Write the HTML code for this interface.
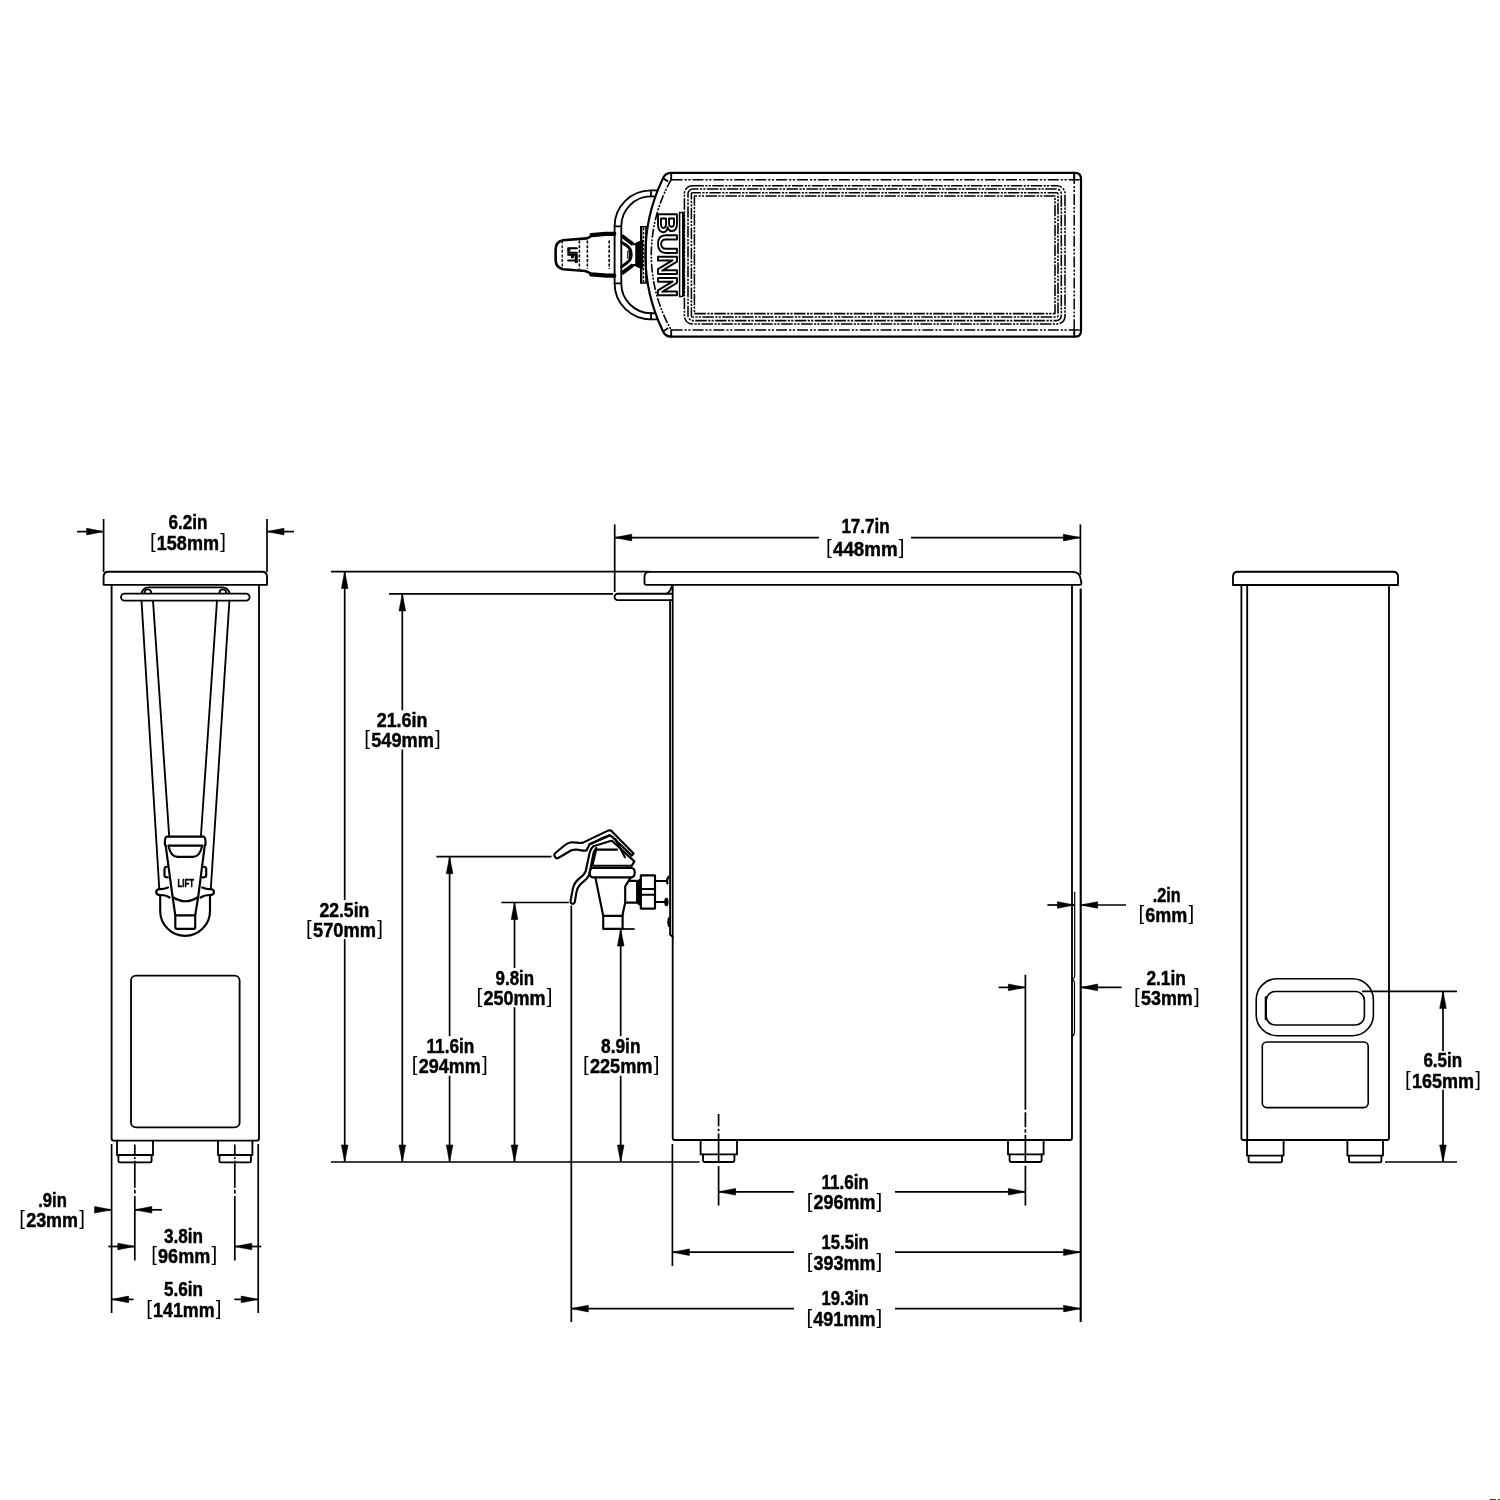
<!DOCTYPE html>
<html lang="en">
<head>
<meta charset="utf-8">
<title>Iced tea dispenser dimensional drawing</title>
<style>
html,body{margin:0;padding:0;background:#fff;}
body{width:1500px;height:1500px;overflow:hidden;}
svg{display:block;will-change:transform;}
.o{fill:none;stroke:#000;stroke-width:1.85;stroke-linecap:round;stroke-linejoin:round;}
.o2{fill:none;stroke:#000;stroke-width:2.15;stroke-linecap:round;stroke-linejoin:round;}
.of{fill:#fff;stroke:#000;stroke-width:1.85;stroke-linecap:round;stroke-linejoin:round;}
.k{fill:#000;stroke:#000;stroke-width:1;stroke-linejoin:round;}
.d{fill:none;stroke:#000;stroke-width:1.7;stroke-linecap:butt;}
.h{fill:none;stroke:#000;stroke-width:1.3;stroke-linecap:butt;}
.a{fill:#000;stroke:#000;stroke-width:0.6;stroke-linejoin:miter;}
.t{font-family:"Liberation Sans",sans-serif;font-size:20.0px;font-weight:700;fill:#000;stroke:#000;stroke-width:0.45;stroke-linejoin:round;text-anchor:middle;}
.b{font-weight:400;font-size:20.5px;stroke:none;}
.lift{font-family:"Liberation Sans",sans-serif;font-weight:700;fill:#000;stroke:#000;stroke-width:0.5;stroke-linejoin:round;text-anchor:middle;}
.lift2{font-family:"Liberation Sans",sans-serif;font-weight:700;fill:#000;stroke:#000;stroke-width:1.7;stroke-linejoin:round;text-anchor:middle;}
.bunn{font-family:"Liberation Sans",sans-serif;font-weight:700;fill:#fff;stroke:#000;stroke-width:1.9;stroke-linejoin:round;text-anchor:middle;}
</style>
</head>
<body>
<svg width="1500" height="1500" viewBox="0 0 1500 1500">
<rect x="0" y="0" width="1500" height="1500" fill="#fff"/>
<g id="topview">
<path class="o" d="M670.8,172.9 H1075 Q1081,172.9 1081,178.9 V330.7 Q1081,336.7 1075,336.7 H670.8 Q665,336.7 662.4,330 A174.8,174.8 0 0 1 662.4,179.6 Q665,172.9 670.8,172.9 Z" style="stroke-width:2.2"/>
<path class="h" d="M671.6,179.7 H1081" stroke-dasharray="11 2 2.2 1.5 2.2 2" style="stroke-width:1.5"/>
<path class="h" d="M671.6,329.9 H1081" stroke-dasharray="11 2 2.2 1.5 2.2 2" style="stroke-width:1.5"/>
<path class="h" d="M1074.2,173 V336.6" stroke-dasharray="11 2 2.2 1.5 2.2 2" style="stroke-width:1.5"/>
<path class="o" d="M671.2,173 V179.6"/>
<path class="o" d="M671.2,330 V336.6"/>
<path class="o" d="M1074.3,173 V179.7"/>
<path class="o" d="M1074.3,329.9 V336.6"/>
<path class="h" d="M671.2,179.6 A152,152 0 0 0 671.2,330" stroke-dasharray="9 1.6 2 1.3 2 1.6" style="stroke-width:1.6"/>
<path class="o" d="M663.2,178.4 L667.6,181.1"/>
<path class="o" d="M663.2,331.2 L667.6,328.5"/>
<rect class="h" x="684.4" y="185.7" width="380.6" height="138.2" rx="8" ry="8" stroke-dasharray="11.5 1.4 2.2 1.2 2.2 1.4" stroke-dashoffset="0" style="stroke-width:1.55"/>
<rect class="h" x="688" y="189" width="373.3" height="131.6" rx="5" ry="5" stroke-dasharray="11.5 1.4 2.2 1.2 2.2 1.4" stroke-dashoffset="6" style="stroke-width:1.55"/>
<rect class="h" x="691.4" y="192.7" width="366.6" height="124.2" rx="1" ry="1" stroke-dasharray="11.5 1.4 2.2 1.2 2.2 1.4" stroke-dashoffset="3" style="stroke-width:1.55"/>
<rect class="h" x="694.4" y="196" width="360.6" height="117.6" rx="0.2" ry="0.2" stroke-dasharray="11.5 1.4 2.2 1.2 2.2 1.4" stroke-dashoffset="9" style="stroke-width:1.55"/>
<path class="o" d="M656.9,190.3 H651 A36.4,35.8 0 0 0 614.6,226.1 V283.5 A36.4,35.8 0 0 0 651,319.3 H656.9"/>
<path class="o" d="M654.2,196.4 H651 A29.7,29.7 0 0 0 621.3,226.1 V283.5 A29.7,29.7 0 0 0 651,313.2 H654.2"/>
<path class="o" d="M614.6,226.3 H621.3"/>
<path class="o" d="M614.6,283.3 H621.3"/>
<path class="o" d="M651,190.3 V196.4"/>
<path class="o" d="M651,313.2 V319.3"/>
<path class="o" d="M614.5,234.6 L605.7,234.8 L591.4,236 Q589,237.6 586.6,238.4 L563,240.2 Q555.6,241.6 555.6,250 V259.6 Q555.6,267.6 563,269.2 L585.4,271 Q588,272 591,273.6 L607,274.8 L614.5,274.8" style="stroke-width:2.6"/>
<path class="o" d="M591.4,234.9 L605.7,233.6 H614.5" style="stroke-width:3.8"/>
<path class="o" d="M591,274.6 L607,275.8 H614.5" style="stroke-width:3.8"/>
<line class="h" x1="562.2" y1="240.6" x2="562.2" y2="269" stroke-dasharray="3 1.6" style="stroke-width:1.3"/>
<line class="h" x1="579.4" y1="240.6" x2="579.4" y2="269" stroke-dasharray="3 1.6" style="stroke-width:1.5"/>
<line class="h" x1="587.4" y1="240.6" x2="587.4" y2="269" stroke-dasharray="3 1.6" style="stroke-width:1.6"/>
<line class="h" x1="609.2" y1="240.6" x2="609.2" y2="269" stroke-dasharray="3 1.6" style="stroke-width:1.6"/>
<text class="lift2" transform="translate(568.4,254.9) rotate(90)" x="0" y="0" font-size="13.5" textLength="15.4" lengthAdjust="spacingAndGlyphs">LIFT</text>
<path class="o" d="M621.8,235.8 L633,244.2 M621.8,273.4 L633,265" style="stroke-width:3.9;stroke-linecap:butt"/>
<path class="o" d="M621.8,242.4 L627,245.8 Q631.2,249 631.2,254.6 Q631.2,260 627,262.8 L621.8,266.6" style="stroke-width:3"/>
<path class="o" d="M627.8,251 H629.6 V258 H627.8 Z" style="stroke-width:1.2"/>
<path class="o" d="M633,244.2 H636 M633,265 H636"/>
<polygon class="k" points="635.8,243 642.6,240.4 642.6,268.8 635.8,266.2"/>
<path class="h" d="M640.8,226.8 H646 V283 H640.8 Z" style="stroke-width:1.6"/>
<line class="h" x1="641.4" y1="227" x2="641.4" y2="283" style="stroke-width:2"/>
<line class="h" x1="643.6" y1="228" x2="643.6" y2="282" stroke-dasharray="2.4 1.6"/>
<text class="bunn" transform="translate(657.5,254.8) rotate(90)" x="0" y="0" font-size="27.4" textLength="85.2" lengthAdjust="spacingAndGlyphs">BUNN</text>
<path class="h" d="M679.6,212.5 H682.8 V296.5 H679.6 Z" style="stroke-width:1.5"/>
<line class="h" x1="683.8" y1="213" x2="683.8" y2="296" style="stroke-width:1.8"/>
</g>
<g id="frontview">
<line class="d" x1="103.6" y1="519" x2="103.6" y2="572"/>
<line class="d" x1="267" y1="519" x2="267" y2="572"/>
<line class="d" x1="77" y1="531.6" x2="103.6" y2="531.6"/>
<polygon class="a" points="103.6,531.6 86.6,528.3 86.6,534.9"/>
<line class="d" x1="267" y1="531.6" x2="294" y2="531.6"/>
<polygon class="a" points="267,531.6 284.0,528.3 284.0,534.9"/>
<text class="t" x="187.9" y="528.5" textLength="39.0" lengthAdjust="spacingAndGlyphs">6.2in</text>
<text class="t" y="549.7"><tspan class="b" x="149.9" dy="-1.85" text-anchor="start">[</tspan><tspan x="187.9" dy="1.85" textLength="62.2" lengthAdjust="spacingAndGlyphs">158mm</tspan><tspan class="b" x="225.9" dy="-1.85" text-anchor="end">]</tspan></text>
<path class="o" d="M103.6,584.8 V576.6 Q103.6,571.7 108.6,571.7 H262 Q267,571.7 267,576.6 V584.8 Z"/>
<path class="o" d="M111.6,584.8 V1138.6 Q111.6,1140.6 113.6,1140.6 H257 Q259,1140.6 259,1138.6 V584.8"/>
<path class="o" d="M141.4,594 Q142.6,587.4 149,587.4 H222 Q228.4,587.4 229.6,594"/>
<circle class="o" cx="147.8" cy="592.6" r="3.3"/>
<circle class="o" cx="222.8" cy="592.6" r="3.3"/>
<rect class="of" x="121" y="593.6" width="128.6" height="7.0" rx="3.5" ry="3.5"/>
<path class="o" d="M141.5,600.6 L159.3,889"/>
<path class="o" d="M153,600.6 L169.2,836.5"/>
<path class="o" d="M217,600.6 L200.9,836.5"/>
<path class="o" d="M229.4,600.6 L210.8,889"/>
<path class="o2" d="M160.2,895 V911 A24.9,24.9 0 0 0 210,911 V895"/>
<path class="o2" d="M168,887.4 Q163,889.6 159,889 Q156,890 156.2,892.5 Q156.6,895 160.2,895 Q166,895 169.6,897.5"/>
<path class="o2" d="M202.2,887.4 Q207.2,889.6 211.2,889 Q214.2,890 214,892.5 Q213.6,895 210,895 Q204.2,895 200.6,897.5"/>
<path class="o2" d="M165,845 Q164.4,838 166.5,836.6 H203.9 Q206,838 205.4,845"/>
<path class="o2" d="M165.6,845 L172.6,897 Q185.4,905.5 198.2,897 L204.8,845"/>
<path class="o2" d="M168.4,845.6 H202.2 Q200,856.8 193,856.8 H177.6 Q170.6,856.8 168.4,845.6 Z"/>
<path class="o2" d="M166.9,866.8 Q164.5,867 164.5,869 V875.4 Q164.5,877.2 167.8,877.4"/>
<path class="o2" d="M203.6,866.8 Q206.2,867 206.2,869 V875.4 Q206.2,877.2 202.8,877.4"/>
<path class="o2" d="M172.8,898 L175.3,915.3 V927.3 Q175.3,928.8 176.8,928.8 H193.7 Q195.2,928.8 195.2,927.3 V915.3 L198,898"/>
<path class="o2" d="M175.3,915.3 H195.2"/>
<text class="lift" x="185.7" y="887.4" font-size="10.8" textLength="16.4" lengthAdjust="spacingAndGlyphs">LIFT</text>
<rect class="o" x="131" y="975.6" width="108.6" height="151.8" rx="5" ry="5"/>
<path class="o" d="M117,1140.6 V1155 H153 V1140.6"/>
<path class="o" d="M118.4,1155 V1161 Q118.4,1162.4 119.8,1162.4 H150.2 Q151.6,1162.4 151.6,1161 V1155"/>
<path class="o" d="M218,1140.6 V1155 H252.4 V1140.6"/>
<path class="o" d="M219.4,1155 V1161 Q219.4,1162.4 220.8,1162.4 H249.6 Q251,1162.4 251,1161 V1155"/>
<line class="d" x1="111.6" y1="1144" x2="111.6" y2="1313"/>
<line class="d" x1="258.2" y1="1144" x2="258.2" y2="1313"/>
<line class="d" x1="134.8" y1="1144.5" x2="134.8" y2="1260.5" stroke-dasharray="10.3 2.4 1.8 1.8 27 2 3.6 2.7 70"/>
<line class="d" x1="234.8" y1="1144.5" x2="234.8" y2="1260.5" stroke-dasharray="10.3 2.4 1.8 1.8 27 2 3.6 2.7 70"/>
<line class="d" x1="94.6" y1="1209.8" x2="111.6" y2="1209.8"/>
<polygon class="a" points="111.6,1209.8 94.6,1206.5 94.6,1213.1"/>
<line class="d" x1="134.8" y1="1209.8" x2="162" y2="1209.8"/>
<polygon class="a" points="134.8,1209.8 151.8,1206.5 151.8,1213.1"/>
<text class="t" x="52.55" y="1207" textLength="28.7" lengthAdjust="spacingAndGlyphs">.9in</text>
<text class="t" y="1226.9"><tspan class="b" x="19.3" dy="-1.85" text-anchor="start">[</tspan><tspan x="52.1" dy="1.85" textLength="51.8" lengthAdjust="spacingAndGlyphs">23mm</tspan><tspan class="b" x="84.9" dy="-1.85" text-anchor="end">]</tspan></text>
<line class="d" x1="108.3" y1="1246.5" x2="134.8" y2="1246.5"/>
<polygon class="a" points="134.8,1246.5 117.8,1243.2 117.8,1249.8"/>
<line class="d" x1="234.8" y1="1246.5" x2="261.3" y2="1246.5"/>
<polygon class="a" points="234.8,1246.5 251.8,1243.2 251.8,1249.8"/>
<text class="t" x="183.55" y="1243.2" textLength="39.1" lengthAdjust="spacingAndGlyphs">3.8in</text>
<text class="t" y="1263.3"><tspan class="b" x="151.2" dy="-1.85" text-anchor="start">[</tspan><tspan x="184.15" dy="1.85" textLength="52.1" lengthAdjust="spacingAndGlyphs">96mm</tspan><tspan class="b" x="217.1" dy="-1.85" text-anchor="end">]</tspan></text>
<line class="d" x1="111.6" y1="1299.4" x2="133.5" y2="1299.4"/>
<polygon class="a" points="111.6,1299.4 128.6,1296.1 128.6,1302.7"/>
<line class="d" x1="234.3" y1="1299.4" x2="258.2" y2="1299.4"/>
<polygon class="a" points="258.2,1299.4 241.2,1296.1 241.2,1302.7"/>
<text class="t" x="183.55" y="1296" textLength="39.1" lengthAdjust="spacingAndGlyphs">5.6in</text>
<text class="t" y="1316.5"><tspan class="b" x="146.2" dy="-1.85" text-anchor="start">[</tspan><tspan x="183.85" dy="1.85" textLength="61.5" lengthAdjust="spacingAndGlyphs">141mm</tspan><tspan class="b" x="221.5" dy="-1.85" text-anchor="end">]</tspan></text>
</g>
<g id="sideview">
<line class="d" x1="614.7" y1="524.4" x2="614.7" y2="592"/>
<line class="d" x1="1080.4" y1="524.4" x2="1080.4" y2="575"/>
<line class="d" x1="614.7" y1="537.6" x2="819" y2="537.6"/>
<polygon class="a" points="614.7,537.6 631.7,534.3 631.7,540.9"/>
<line class="d" x1="911" y1="537.6" x2="1080.4" y2="537.6"/>
<polygon class="a" points="1080.4,537.6 1063.4,534.3 1063.4,540.9"/>
<text class="t" x="865.5" y="532.7" textLength="48.2" lengthAdjust="spacingAndGlyphs">17.7in</text>
<text class="t" y="556.3"><tspan class="b" x="826.1" dy="-1.85" text-anchor="start">[</tspan><tspan x="865.3" dy="1.85" textLength="64.6" lengthAdjust="spacingAndGlyphs">448mm</tspan><tspan class="b" x="904.5" dy="-1.85" text-anchor="end">]</tspan></text>
<line class="d" x1="331" y1="571.7" x2="650" y2="571.7"/>
<line class="d" x1="389" y1="593.9" x2="613" y2="593.9"/>
<line class="d" x1="436.4" y1="856.7" x2="551.5" y2="856.7"/>
<line class="d" x1="501.4" y1="902.5" x2="568.8" y2="902.5"/>
<line class="d" x1="331" y1="1162" x2="699.6" y2="1162"/>
<line class="d" x1="603" y1="929" x2="634.6" y2="929"/>
<line class="d" x1="344.7" y1="571.5" x2="344.7" y2="900.1"/>
<line class="d" x1="344.7" y1="939.1" x2="344.7" y2="1162"/>
<polygon class="a" points="344.7,571.5 341.4,588.5 348.0,588.5"/>
<polygon class="a" points="344.7,1162 341.4,1145.0 348.0,1145.0"/>
<text class="t" x="344.35" y="916.7" textLength="49.9" lengthAdjust="spacingAndGlyphs">22.5in</text>
<text class="t" y="936.7"><tspan class="b" x="306.1" dy="-1.85" text-anchor="start">[</tspan><tspan x="344.5" dy="1.85" textLength="63.0" lengthAdjust="spacingAndGlyphs">570mm</tspan><tspan class="b" x="382.9" dy="-1.85" text-anchor="end">]</tspan></text>
<line class="d" x1="402.3" y1="593.9" x2="402.3" y2="710.3"/>
<line class="d" x1="402.3" y1="749.5" x2="402.3" y2="1162"/>
<polygon class="a" points="402.3,593.9 399.0,610.9 405.6,610.9"/>
<polygon class="a" points="402.3,1162 399.0,1145.0 405.6,1145.0"/>
<text class="t" x="402.05" y="726.9" textLength="50.7" lengthAdjust="spacingAndGlyphs">21.6in</text>
<text class="t" y="747.1"><tspan class="b" x="364.3" dy="-1.85" text-anchor="start">[</tspan><tspan x="402.55" dy="1.85" textLength="62.7" lengthAdjust="spacingAndGlyphs">549mm</tspan><tspan class="b" x="440.8" dy="-1.85" text-anchor="end">]</tspan></text>
<line class="d" x1="449.6" y1="856.7" x2="449.6" y2="1036.2"/>
<line class="d" x1="449.6" y1="1075.7" x2="449.6" y2="1162"/>
<polygon class="a" points="449.6,856.7 446.3,873.7 452.9,873.7"/>
<polygon class="a" points="449.6,1162 446.3,1145.0 452.9,1145.0"/>
<text class="t" x="450.4" y="1052.8" textLength="47.8" lengthAdjust="spacingAndGlyphs">11.6in</text>
<text class="t" y="1073.3"><tspan class="b" x="411.8" dy="-1.85" text-anchor="start">[</tspan><tspan x="449.75" dy="1.85" textLength="62.1" lengthAdjust="spacingAndGlyphs">294mm</tspan><tspan class="b" x="487.7" dy="-1.85" text-anchor="end">]</tspan></text>
<line class="d" x1="514.5" y1="902.5" x2="514.5" y2="968.0"/>
<line class="d" x1="514.5" y1="1007.1999999999999" x2="514.5" y2="1162"/>
<polygon class="a" points="514.5,902.5 511.2,919.5 517.8,919.5"/>
<polygon class="a" points="514.5,1162 511.2,1145.0 517.8,1145.0"/>
<text class="t" x="514.8" y="984.6" textLength="38.6" lengthAdjust="spacingAndGlyphs">9.8in</text>
<text class="t" y="1004.8"><tspan class="b" x="476.6" dy="-1.85" text-anchor="start">[</tspan><tspan x="514.55" dy="1.85" textLength="62.1" lengthAdjust="spacingAndGlyphs">250mm</tspan><tspan class="b" x="552.5" dy="-1.85" text-anchor="end">]</tspan></text>
<line class="d" x1="620.7" y1="929" x2="620.7" y2="1036.2"/>
<line class="d" x1="620.7" y1="1075.7" x2="620.7" y2="1162"/>
<polygon class="a" points="620.7,929 617.4,946.0 624.0,946.0"/>
<polygon class="a" points="620.7,1162 617.4,1145.0 624.0,1145.0"/>
<text class="t" x="620.75" y="1052.8" textLength="39.5" lengthAdjust="spacingAndGlyphs">8.9in</text>
<text class="t" y="1073.3"><tspan class="b" x="583.0" dy="-1.85" text-anchor="start">[</tspan><tspan x="621.2" dy="1.85" textLength="62.6" lengthAdjust="spacingAndGlyphs">225mm</tspan><tspan class="b" x="659.4" dy="-1.85" text-anchor="end">]</tspan></text>
<path class="o" d="M644.5,582.8 V576.8 Q644.5,571.8 649.5,571.8 H1073.4 Q1080.2,572.4 1080.8,580 L1081.4,583 Q1081.4,584.9 1079.4,584.9 H646.5 Q644.5,584.9 644.5,582.8 Z"/>
<path class="o" d="M672,593.7 H617.7 A3.2,3.2 0 0 0 617.7,600.1 H672"/>
<path class="o" d="M670.1,600.4 V934.5 L672.8,937"/>
<path class="o" d="M667.4,593.4 Q670.6,591.4 671.8,586.4"/>
<path class="o" d="M672.7,584.9 V1138 Q672.7,1140 674.7,1140 H1070 Q1072,1140 1072,1138 V584.9"/>
<path class="o" d="M1074.7,892 V976 Q1074.5,978.5 1072.4,979.5" style="stroke-width:1.2"/>
<path class="o" d="M1072.4,979.5 Q1074.5,980.5 1074.5,983 V1032 Q1074.5,1035 1072.4,1036.4" style="stroke-width:1.2"/>
<line class="d" x1="1080.7" y1="588.6" x2="1080.7" y2="1322" style="stroke-width:2.1"/>
<path class="o" d="M700.6,1140 V1154.4 H737 V1140"/>
<path class="o" d="M703,1154.4 V1160.6 Q703,1162 704.4,1162 H733 Q734.4,1162 734.4,1160.6 V1154.4"/>
<path class="o" d="M1008,1140 V1154.4 H1043.6 V1140"/>
<path class="o" d="M1009.6,1154.4 V1160.6 Q1009.6,1162 1011,1162 H1040.2 Q1041.6,1162 1041.6,1160.6 V1154.4"/>
<line class="d" x1="718.6" y1="1114" x2="718.6" y2="1205.6" stroke-dasharray="12.3 2.4 2.6 2.2 29.5 3 60"/>
<line class="d" x1="1025.4" y1="974.7" x2="1025.4" y2="1205.6" stroke-dasharray="135 2.5 15 2 3.5 2 28 3 60"/>
<line class="d" x1="571.3" y1="905.5" x2="571.3" y2="1322"/>
<line class="d" x1="672.4" y1="1144" x2="672.4" y2="1266"/>
<line class="d" x1="718.6" y1="1191.8" x2="794" y2="1191.8"/>
<polygon class="a" points="718.6,1191.8 735.6,1188.5 735.6,1195.1"/>
<line class="d" x1="895" y1="1191.8" x2="1025.4" y2="1191.8"/>
<polygon class="a" points="1025.4,1191.8 1008.4,1188.5 1008.4,1195.1"/>
<text class="t" x="845.1" y="1188.8" textLength="47.4" lengthAdjust="spacingAndGlyphs">11.6in</text>
<text class="t" y="1209.4"><tspan class="b" x="806.7" dy="-1.85" text-anchor="start">[</tspan><tspan x="844.5" dy="1.85" textLength="61.8" lengthAdjust="spacingAndGlyphs">296mm</tspan><tspan class="b" x="882.3" dy="-1.85" text-anchor="end">]</tspan></text>
<line class="d" x1="672.4" y1="1252.2" x2="794" y2="1252.2"/>
<polygon class="a" points="672.4,1252.2 689.4,1248.9 689.4,1255.5"/>
<line class="d" x1="895" y1="1252.2" x2="1080.6" y2="1252.2"/>
<polygon class="a" points="1080.6,1252.2 1063.6,1248.9 1063.6,1255.5"/>
<text class="t" x="845.1" y="1249" textLength="47.4" lengthAdjust="spacingAndGlyphs">15.5in</text>
<text class="t" y="1269.8"><tspan class="b" x="806.7" dy="-1.85" text-anchor="start">[</tspan><tspan x="844.5" dy="1.85" textLength="61.8" lengthAdjust="spacingAndGlyphs">393mm</tspan><tspan class="b" x="882.3" dy="-1.85" text-anchor="end">]</tspan></text>
<line class="d" x1="571.3" y1="1308.6" x2="794" y2="1308.6"/>
<polygon class="a" points="571.3,1308.6 588.3,1305.3 588.3,1311.9"/>
<line class="d" x1="895" y1="1308.6" x2="1080.6" y2="1308.6"/>
<polygon class="a" points="1080.6,1308.6 1063.6,1305.3 1063.6,1311.9"/>
<text class="t" x="845.1" y="1305" textLength="47.4" lengthAdjust="spacingAndGlyphs">19.3in</text>
<text class="t" y="1325.6"><tspan class="b" x="806.4" dy="-1.85" text-anchor="start">[</tspan><tspan x="844.35" dy="1.85" textLength="62.1" lengthAdjust="spacingAndGlyphs">491mm</tspan><tspan class="b" x="882.3" dy="-1.85" text-anchor="end">]</tspan></text>
<line class="d" x1="1047.4" y1="905" x2="1074.4" y2="905"/>
<polygon class="a" points="1074.4,905 1057.4,901.7 1057.4,908.3"/>
<line class="d" x1="1080.6" y1="905" x2="1126" y2="905"/>
<polygon class="a" points="1080.6,905 1097.6,901.7 1097.6,908.3"/>
<text class="t" x="1166.65" y="902" textLength="27.9" lengthAdjust="spacingAndGlyphs">.2in</text>
<text class="t" y="922"><tspan class="b" x="1138.4" dy="-1.85" text-anchor="start">[</tspan><tspan x="1166.3" dy="1.85" textLength="42.0" lengthAdjust="spacingAndGlyphs">6mm</tspan><tspan class="b" x="1194.2" dy="-1.85" text-anchor="end">]</tspan></text>
<line class="d" x1="998.6" y1="987.4" x2="1025.4" y2="987.4"/>
<polygon class="a" points="1025.4,987.4 1008.4,984.1 1008.4,990.7"/>
<line class="d" x1="1080.6" y1="987.4" x2="1121.6" y2="987.4"/>
<polygon class="a" points="1080.6,987.4 1097.6,984.1 1097.6,990.7"/>
<text class="t" x="1166.15" y="984.7" textLength="39.5" lengthAdjust="spacingAndGlyphs">2.1in</text>
<text class="t" y="1004.7"><tspan class="b" x="1134.1" dy="-1.85" text-anchor="start">[</tspan><tspan x="1166.85" dy="1.85" textLength="51.7" lengthAdjust="spacingAndGlyphs">53mm</tspan><tspan class="b" x="1199.6" dy="-1.85" text-anchor="end">]</tspan></text>
<path class="o2" d="M554.8,856.6 Q553.6,854.6 555.4,853 L565,845 Q568,842.6 571.5,842.3 L577,842.6 Q580,843.4 583,842.6 L608,830.6 Q610.2,829.8 612,831.4 L633.6,853.4 L631.8,855.6 L612,836.6 Q610.4,835.2 608.6,836 L589.6,844.2 L586.4,850.4 Q582,851 578.4,849.8 Q574.6,849.2 571.4,850.2 L558.2,858 Q556,859 554.8,856.6 Z"/>
<path class="o2" d="M615.4,839.2 L625,857.2"/>
<path class="o2" d="M593.4,846.2 L610.4,841 Q611.8,840.6 613,841.8 L634.4,861.4 L631.6,866"/>
<path class="o2" d="M589.6,844.2 L609,835.4"/>
<path class="o2" d="M600.2,838.9 L609.6,835.3"/>
<path class="o2" d="M593.6,846.2 Q590.6,848.6 589.8,852 L585.8,870.8 Q584.6,874.6 580.2,877.6 Q575.4,881.6 574,885 Q572.6,889 572.2,892 L570.6,900.6 Q570.4,903.4 572.4,903.8 Q574.4,904 574.8,902 L576.4,892.4 Q577,888.4 579,886 Q581.6,883 583.8,881.4 Q588.6,877.8 589.8,872.6 L593.4,853.4 Q594.2,850.6 596.4,848"/>
<path class="o2" d="M596.4,849.6 H617"/>
<path class="o2" d="M596.2,849.6 L592.3,865.7 H631.4"/>
<path class="o2" d="M592.8,868 H631.4 Q634.8,868.2 634.7,872.6 Q634.8,877 631.6,877.4 H592.6 Q589.6,877 589.7,872.6 Q589.6,868.2 592.8,868 Z"/>
<path class="o2" d="M595.4,877.6 L603.2,915.8"/>
<path class="o2" d="M630.6,877.6 L625.2,886.4 V902.4 L622.4,915.8"/>
<path class="o2" d="M603.2,915.8 H622.6 V928.8 H603.2 Z"/>
<path class="o2" d="M629.6,880.9 H637"/>
<path class="o2" d="M625.6,902.6 H637"/>
<polygon class="k" points="636.6,881.6 640.8,878.2 640.8,906 636.6,903"/>
<path class="o2" d="M640.8,875.4 H655 V908.6 H640.8 Z"/>
<path class="o2" d="M640.8,889 H655"/>
<path class="o2" d="M640.8,894.7 H655"/>
<path class="o2" d="M655,881 H666.6"/>
<path class="o2" d="M655,902 H665.6"/>
<path class="o2" d="M668.6,876.6 Q666.2,880 667.4,883.4"/>
<ellipse class="o2" cx="666.4" cy="902" rx="1.1" ry="3.2"/>
<path class="o2" d="M669,918 Q667.4,922 669,926"/>
</g>
<g id="backview">
<path class="o" d="M1233,585 V576.6 Q1233,571.7 1238,571.7 H1393 Q1398,571.7 1398,576.6 V585 Z"/>
<path class="o" d="M1241.4,585 V1138 Q1241.4,1140 1243.4,1140 H1387 Q1389,1140 1389,1138 V585"/>
<path class="o" d="M1247.2,585 V1139"/>
<rect class="o" x="1256.2" y="978.7" width="117.2" height="57.0" rx="21" ry="21" style="stroke-width:1.6"/>
<rect class="o" x="1266.2" y="991.5" width="98.2" height="33.5" rx="9" ry="9" style="stroke-width:1.6"/>
<path class="o" d="M1265.4,997 V1019.5" style="stroke-width:1.4"/>
<rect class="o" x="1262.3" y="1042" width="105.9" height="65.6" rx="4.5" ry="4.5" style="stroke-width:1.6"/>
<path class="o" d="M1247,1140 V1155.6 H1283.6 V1140"/>
<path class="o" d="M1248.6,1155.6 V1161 Q1248.6,1162.4 1250,1162.4 H1280.6 Q1282,1162.4 1282,1161 V1155.6"/>
<path class="o" d="M1347.4,1140 V1155.6 H1383 V1140"/>
<path class="o" d="M1349,1155.6 V1161 Q1349,1162.4 1350.4,1162.4 H1380 Q1381.4,1162.4 1381.4,1161 V1155.6"/>
<line class="d" x1="1362" y1="991.4" x2="1457" y2="991.4"/>
<line class="d" x1="1385" y1="1162" x2="1457" y2="1162"/>
<line class="d" x1="1443" y1="991.4" x2="1443" y2="1051"/>
<line class="d" x1="1443" y1="1089.8" x2="1443" y2="1162"/>
<polygon class="a" points="1443,991.4 1439.7,1008.4 1446.3,1008.4"/>
<polygon class="a" points="1443,1162 1439.7,1145.0 1446.3,1145.0"/>
<text class="t" x="1442.8" y="1067.4" textLength="38.8" lengthAdjust="spacingAndGlyphs">6.5in</text>
<text class="t" y="1088"><tspan class="b" x="1405.1" dy="-1.85" text-anchor="start">[</tspan><tspan x="1443.0" dy="1.85" textLength="62.0" lengthAdjust="spacingAndGlyphs">165mm</tspan><tspan class="b" x="1480.9" dy="-1.85" text-anchor="end">]</tspan></text>
</g>
<path d="M1490,1499.5 H1496 M1498,1499.5 H1500" fill="none" stroke="#333" stroke-width="1"/>
</svg>
</body>
</html>
